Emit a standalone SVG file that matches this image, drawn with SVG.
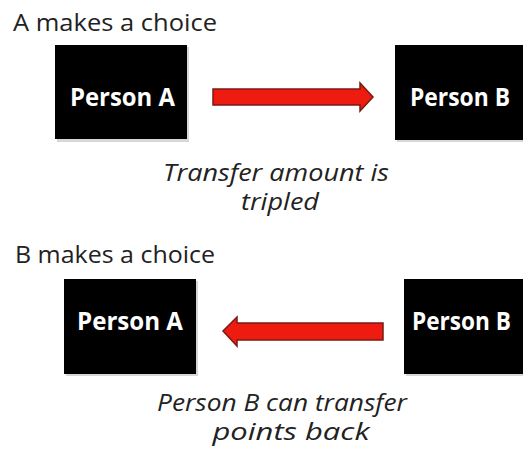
<svg xmlns="http://www.w3.org/2000/svg" width="523" height="454" viewBox="0 0 523 454">
<style>
.box{fill:#000;}
.shadow{fill:#bdbdbd;opacity:0.6;}
.nl{fill:#fff;font-family:"Open Sans","Liberation Sans",sans-serif;font-weight:bold;font-size:25px;}
.hd{fill:#222;font-family:"Open Sans","Liberation Sans",sans-serif;font-size:23px;}
.it{fill:#222;font-family:"Open Sans","Liberation Sans",sans-serif;font-style:italic;font-size:23px;text-anchor:middle;}
.arrow{fill:#ee1c10;stroke:#7a1a14;stroke-width:1.5;stroke-linejoin:miter;}
</style>
<rect width="523" height="454" fill="#fff"/>
<text class="hd" x="13" y="31" textLength="204" lengthAdjust="spacingAndGlyphs">A makes a choice</text>
<g id="topA">
<rect class="shadow" x="57" y="47" width="132" height="95"/>
<rect class="box" x="55" y="45" width="132" height="94"/>
<text class="nl" x="70" y="106" textLength="105" lengthAdjust="spacingAndGlyphs">Person A</text>
</g>
<g id="topB">
<rect class="shadow" x="397" y="47" width="126" height="95"/>
<rect class="box" x="395" y="45" width="128" height="95"/>
<text class="nl" x="410" y="106" textLength="100" lengthAdjust="spacingAndGlyphs">Person B</text>
</g>
<text class="it" x="276" y="181" textLength="226" lengthAdjust="spacingAndGlyphs">Transfer amount is</text>
<text class="it" x="280" y="210" textLength="78" lengthAdjust="spacingAndGlyphs">tripled</text>
<text class="hd" x="15" y="263" textLength="200" lengthAdjust="spacingAndGlyphs">B makes a choice</text>
<g id="botA">
<rect class="shadow" x="66" y="281" width="132" height="95"/>
<rect class="box" x="64" y="279" width="132" height="95"/>
<text class="nl" x="77" y="330" textLength="106" lengthAdjust="spacingAndGlyphs">Person A</text>
</g>
<g id="botB">
<rect class="shadow" x="406" y="281" width="117" height="95"/>
<rect class="box" x="404" y="279" width="119" height="95"/>
<text class="nl" x="412" y="330" textLength="99" lengthAdjust="spacingAndGlyphs">Person B</text>
</g>
<text class="it" x="282" y="411" textLength="250" lengthAdjust="spacingAndGlyphs">Person B can transfer</text>
<text class="it" x="291" y="440" textLength="157" lengthAdjust="spacingAndGlyphs">points back</text>
<g id="connectors">
<polygon class="arrow" points="213,89 360,89 360,83 373,97 360,111 360,105 213,105"/>
<polygon class="arrow" points="383,323 237,323 237,317 223,331 237,346 237,340 383,340"/>
</g>
</svg>
